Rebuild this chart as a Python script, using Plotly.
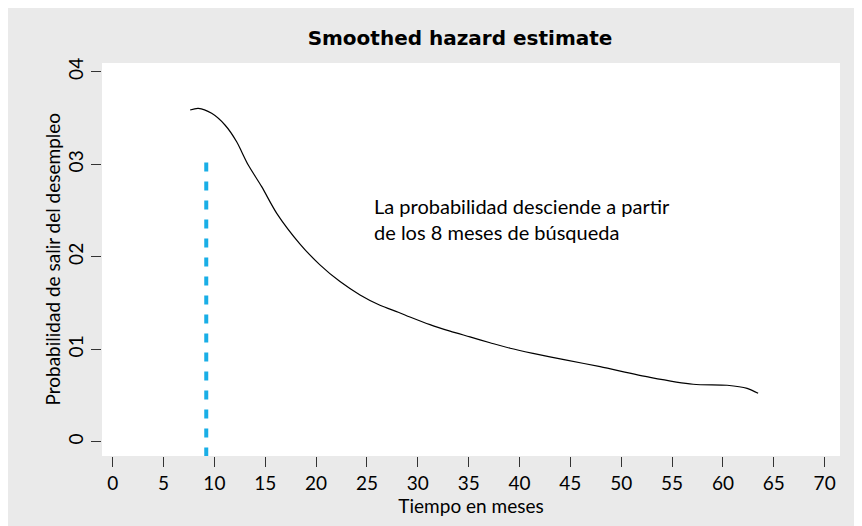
"""Smoothed hazard estimate: probabilidad de salir del desempleo."""

import plotly.graph_objects as go

# Curva de riesgo suavizada
meses = [7.62, 8.42, 9.73, 11.04, 12.19, 12.68, 13.33, 14.65, 16.13, 18.42,
         20.38, 22.35, 24.32, 26.28, 28.08, 29.23, 31.2, 33.17, 35.13, 37.1,
         39.07, 41.33, 44.5, 47.93, 52.84, 57.07, 60.41, 62.38, 63.46]
hazard = [0.03586, 0.03604, 0.0355, 0.03424, 0.03243, 0.03135, 0.02991, 0.02757,
          0.02469, 0.02137, 0.01912, 0.01731, 0.01587, 0.01475, 0.01400, 0.01348,
          0.01265, 0.01195, 0.01133, 0.0107, 0.0101, 0.00955, 0.00885, 0.00811,
          0.00696, 0.00621, 0.0061, 0.00577, 0.00523]

# Línea vertical de referencia
vline_x = [9.2, 9.2]
vline_y = [-0.0016, 0.031]

x_ticks = list(range(0, 75, 5))
y_ticks = [0, 0.01, 0.02, 0.03, 0.04]
y_ticktext = ["0", "01", "02", "03", "04"]

note_x, note_y = 25.5, 0.0241
note_text = "La probabilidad desciende a partir<br>de los 8 meses de búsqueda"

GRIS = "#eaeaea"
FONT = "Lato"

fig = go.Figure()

fig.add_trace(go.Scatter(
    x=vline_x, y=vline_y, mode="lines",
    line=dict(color="#19aee6", width=4, dash="9px,10px"),
    hoverinfo="skip", showlegend=False,
))

fig.add_trace(go.Scatter(
    x=meses, y=hazard, mode="lines",
    line=dict(color="black", width=1.2, shape="spline", smoothing=0.8),
    showlegend=False,
))

fig.add_annotation(
    x=note_x, y=note_y, text=note_text, showarrow=False,
    xanchor="left", yanchor="middle", align="left",
    font=dict(family=FONT, size=20, color="black"),
)

# Título del eje Y como anotación para fijar su posición
fig.add_annotation(
    xref="paper", yref="paper", x=-50 / 738, y=0.5,
    text="Probabilidad de salir del desempleo", textangle=-90,
    showarrow=False, xanchor="center", yanchor="middle",
    font=dict(family=FONT, size=19, color="black"),
)

fig.update_layout(
    width=862, height=526,
    margin=dict(l=94, r=30, t=55, b=78),
    paper_bgcolor=GRIS,
    plot_bgcolor="white",
    font=dict(family=FONT, size=19, color="black"),
    title=dict(
        text="<b>Smoothed hazard estimate</b>",
        x=452 / 862, xanchor="center", y=1 - 30 / 526, yanchor="middle",
        font=dict(family="DejaVu Sans", size=20, color="black"),
    ),
    xaxis=dict(
        range=[-1.05, 71.51], tickvals=x_ticks, ticks="outside", ticklen=10,
        tickcolor="#333", tickwidth=1, showgrid=False, zeroline=False,
        showline=False, tickfont=dict(size=19),
        title=dict(text="Tiempo en meses", font=dict(size=19), standoff=2),
    ),
    yaxis=dict(
        range=[-0.001546, 0.04094], tickvals=y_ticks, ticktext=y_ticktext,
        tickangle=-90, ticks="outside", ticklen=10, tickcolor="#333",
        tickwidth=1, showgrid=False, zeroline=False, showline=False,
        tickfont=dict(size=19),
    ),
)

fig.write_html("out.html")
